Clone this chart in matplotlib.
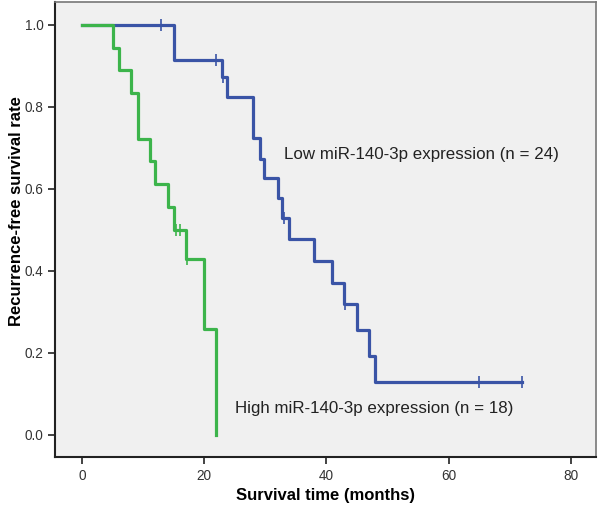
import matplotlib.pyplot as plt
import numpy as np

plt.rcParams['font.family'] = ['Liberation Sans', 'DejaVu Sans']

# Kaplan-Meier steps
low_t = [0, 15, 22.9, 23.7, 28, 29.1, 29.8, 32, 32.8, 33.8, 37.9, 40.9, 42.9, 45, 46.9, 48, 72]
low_s = [1.0, 0.915, 0.872, 0.824, 0.724, 0.674, 0.626, 0.577, 0.530, 0.477, 0.424, 0.371, 0.318, 0.256, 0.191, 0.128, 0.128]
low_cens = [13, 22, 23.1, 33.0, 43.1, 65, 72]

high_t = [0, 5, 6.1, 8, 9.1, 11.1, 12, 14, 15, 17, 20, 22]
high_s = [1.0, 0.944, 0.889, 0.833, 0.722, 0.667, 0.611, 0.556, 0.5, 0.429, 0.257, 0.0]
high_cens = [15.4, 16.1, 17.1]

blue = '#3a54a6'
green = '#3cb44b'


def level(ts, ss, c):
    i = np.searchsorted(ts, c, side='right') - 1
    return np.array(ss)[i]


fig = plt.figure(figsize=(6, 5.07), dpi=100, facecolor='white')
ax = fig.add_axes([0.092, 0.099, 0.901, 0.897])
ax.set_facecolor('#f0f0f0')

ax.step(low_t, low_s, where='post', color=blue, lw=2.3, zorder=3)
ax.step(high_t, high_s, where='post', color=green, lw=2.3, zorder=4)
ax.plot(low_cens, level(low_t, low_s, low_cens), ls='none', marker='|',
        ms=8, mew=1.2, color=blue, zorder=5)
ax.plot(high_cens, level(high_t, high_s, high_cens), ls='none', marker='|',
        ms=8, mew=1.2, color=green, zorder=5)

ax.text(33, 0.685, 'Low miR-140-3p expression (n = 24)', fontsize=12.2,
        color='#222222', va='center')
ax.text(25, 0.065, 'High miR-140-3p expression (n = 18)', fontsize=12.2,
        color='#222222', va='center')

ax.set_xlim(-4.4, 84.1)
ax.set_ylim(-0.054, 1.056)
ax.set_xticks([0, 20, 40, 60, 80])
ax.set_yticks([0.0, 0.2, 0.4, 0.6, 0.8, 1.0])
ax.set_yticklabels(['0.0', '0.2', '0.4', '0.6', '0.8', '1.0'])
ax.tick_params(direction='out', length=5, width=1.2, labelsize=9.8,
               labelcolor='#333333', color='#222222')

for side in ['left', 'bottom']:
    ax.spines[side].set_color('#222222')
    ax.spines[side].set_linewidth(1.5)
for side in ['top', 'right']:
    ax.spines[side].set_color('#777777')
    ax.spines[side].set_linewidth(1.2)

ax.set_xlabel('Survival time (months)', fontsize=12, fontweight='bold', labelpad=4)
ax.set_ylabel('Recurrence-free survival rate', fontsize=12, fontweight='bold')
ax.yaxis.set_label_coords(-0.058, 0.54)

fig.savefig('out.png', dpi=100, facecolor='white')
